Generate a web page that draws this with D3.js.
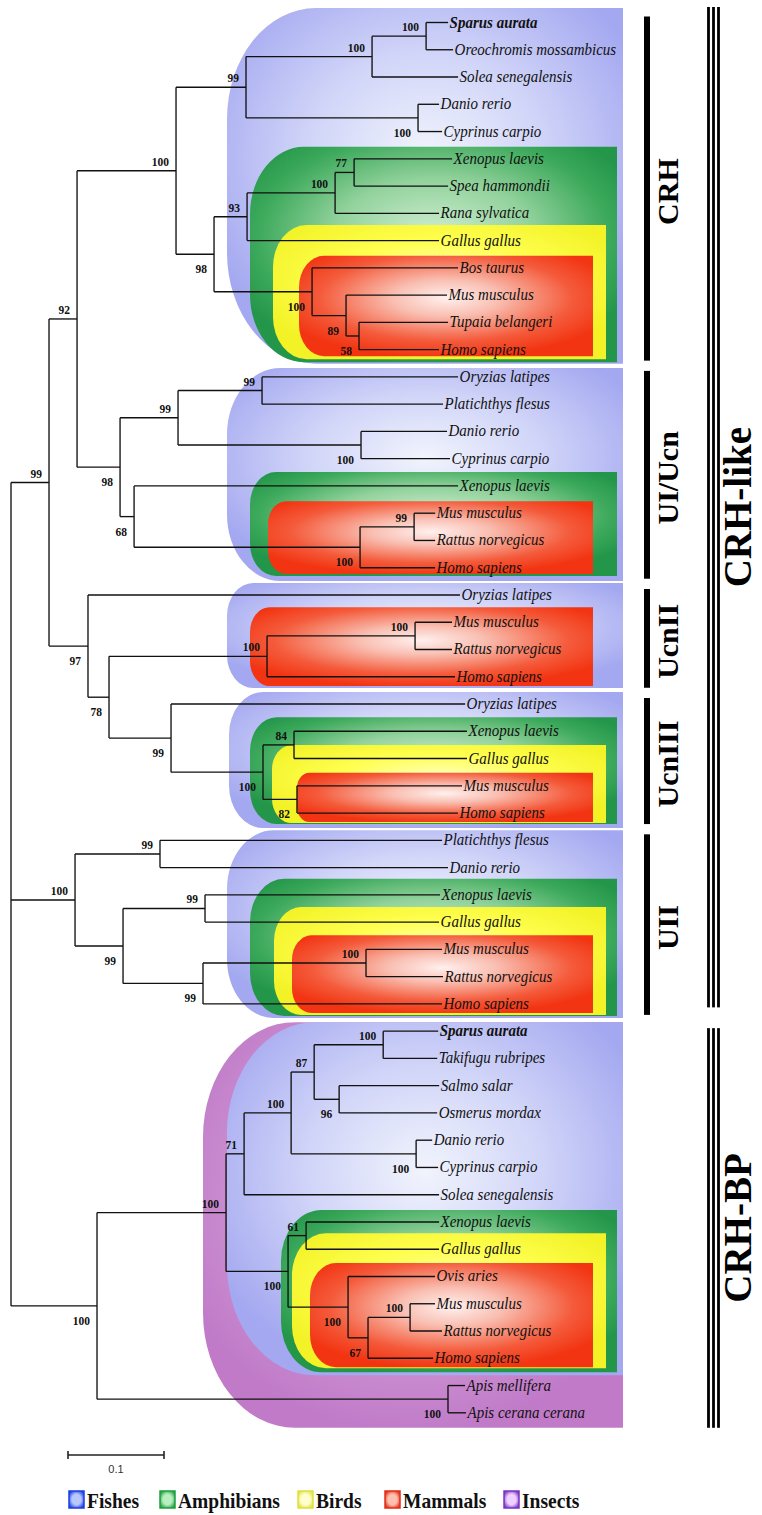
<!DOCTYPE html>
<html><head><meta charset="utf-8">
<script src="https://cdn.jsdelivr.net/npm/d3@7"></script>
<style>
html,body{margin:0;padding:0;background:#fff;}
svg{display:block;}
</style></head>
<body>
<svg id="chart" width="762" height="1515"></svg>
<script>
// ---------------- DATA ----------------
// Subtrees in Newick form: leaf:branchLength, internal labels = bootstrap values
const crhTree = "((((Sparus aurata:0.0229,Oreochromis mossambicus:0.0281)100:0.0563,Solea senegalensis:0.0896)100:0.1313,(Danio rerio:0.0219,Cyprinus carpio:0.0250)100:0.1792)99:0.0729,((((Xenopus laevis:0.1021,Spea hammondii:0.0979)77:0.0198,Rana sylvatica:0.1083)100:0.0917,Gallus gallus:0.2000)93:0.0344,(Bos taurus:0.1521,(Mus musculus:0.1052,(Tupaia belangeri:0.0927,Homo sapiens:0.0833)58:0.0135)89:0.0354)100:0.1021)98:0.0396)100:0.1031";
const uiTree = "(((Oryzias latipes:0.2042,Platichthys flesus:0.1885)99:0.0875,(Danio rerio:0.0896,Cyprinus carpio:0.0927)100:0.1906)99:0.0604,(Xenopus laevis:0.3375,((Mus musculus:0.0219,Rattus norvegicus:0.0219)99:0.0563,Homo sapiens:0.0781)100:0.2354)68:0.0146)98:0.0448";
const ucn2Tree = "((Mus musculus:0.0385,Rattus norvegicus:0.0385)100:0.1542,Homo sapiens:0.1958)100:0.1646";
const ucn3Tree = "(Oryzias latipes:0.3063,((Xenopus laevis:0.1802,Gallus gallus:0.1802)84:0.0323,(Mus musculus:0.1719,Homo sapiens:0.1677)82:0.0354)100:0.0958)99:0.0646";
const u2Tree = "((Platichthys flesus:0.2938,Danio rerio:0.3000)99:0.0885,((Xenopus laevis:0.2448,Gallus gallus:0.2438)99:0.0854,((Mus musculus:0.0792,Rattus norvegicus:0.0802)100:0.1698,Homo sapiens:0.2490)99:0.0833)99:0.0500)100:0.0667";
const bpTree = "((((((Sparus aurata:0.0573,Takifugu rubripes:0.0563)100:0.0719,(Salmo salar:0.1042,Osmerus mordax:0.1021)96:0.0260)87:0.0240,(Danio rerio:0.0167,Cyprinus carpio:0.0229)100:0.1302)100:0.0490,Solea senegalensis:0.2031)71:0.0188,((Xenopus laevis:0.1385,Gallus gallus:0.1385)61:0.0188,(Ovis aries:0.0906,((Mus musculus:0.0260,Rattus norvegicus:0.0333)100:0.0438,Homo sapiens:0.0677)67:0.0208)100:0.0625)100:0.0646)100:0.1344,(Apis mellifera:0.0177,Apis cerana cerana:0.0188)100:0.3656)100:0.0896";
const fullTree = "(((" + crhTree + "," + uiTree + ")92:0.0292,(Oryzias latipes:0.3875,(" + ucn2Tree + "," + ucn3Tree + ")78:0.0219)97:0.0406)99:0.0396," + u2Tree + "," + bpTree + ");";

const highlightTaxa = ["Sparus aurata"];

// Taxonomic groups and the leaf ranges (by leaf order) they shade
const groups = ["Fishes", "Amphibians", "Birds", "Mammals", "Insects"];
const cladeBoxes = [
  ["Fishes",0,12],["Amphibians",5,12],["Birds",8,12],["Mammals",9,12],
  ["Fishes",13,20],["Amphibians",17,20],["Mammals",18,20],
  ["Fishes",21,24],["Mammals",22,24],
  ["Fishes",25,29],["Amphibians",26,29],["Birds",27,29],["Mammals",28,29],
  ["Fishes",30,36],["Amphibians",32,36],["Birds",33,36],["Mammals",34,36],
  ["Insects",37,51],["Fishes",37,49],["Amphibians",44,49],["Birds",45,49],["Mammals",46,49]
];
const subfamilies = [["CRH",0,12],["UI/Ucn",13,20],["UcnII",21,24],["UcnIII",25,29],["UII",30,36]];
const superfamilies = [["CRH-like",0,36],["CRH-BP",37,51]];
const scaleBarValue = 0.1;

// ---------------- LAYOUT / STYLE ----------------
const boxLeft   = [227,250,273,299, 227,250,268, 227,250, 229,250,272,297, 227,250,274,292, 203,227,281,292,310];
const boxTopPad = [-14.5,-12,-15.5,-12, -9,-14,-12, -12,-15, -12,-14,-13.5,-13, -10,-16,-15,-14, -9,-9,-12,-16,-13.5];
const boxBotPad = [14,12.5,9.5,6.5, 13.3,8.3,6.3, 11.3,9.3, 15,11,10,9, 14,12,11,9, 15,17,14,10,9];
const groupRight = {Fishes:623, Amphibians:617, Birds:606, Mammals:593, Insects:623};
const groupStops = {
  Fishes:    [[0,"#f1f4fc"],[0.5,"#d0d4f8"],[1,"#a4a8f0"]],
  Amphibians:[[0,"#d2efd4"],[0.45,"#92d29c"],[0.8,"#3ca95b"],[1,"#24964a"]],
  Birds:     [[0,"#ffffc4"],[0.5,"#ffff50"],[1,"#f2f226"]],
  Mammals:   [[0,"#fff0ee"],[0.3,"#f9bfb2"],[0.72,"#f45a3a"],[1,"#f23412"]],
  Insects:   [[0,"#e2bce4"],[1,"#c07ac8"]]
};
const legendStops = {
  Fishes:["#b8c8ff","#1c3fe0"], Amphibians:["#b8eec0","#1fa040"], Birds:["#ffffd0","#e0e040"],
  Mammals:["#ffc0b0","#e03018"], Insects:["#f0d0ff","#7a34c4"]
};

// ---------------- PARSE ----------------
function parseNewick(s){
  let i=0;
  function node(){
    const n={children:[]};
    if(s[i]==='('){
      i++; n.children.push(node());
      while(s[i]===','){i++; n.children.push(node());}
      i++;
    }
    let name='';
    while(i<s.length && !':,();'.includes(s[i])) name+=s[i++];
    n.name=name.trim();
    n.length=0;
    if(s[i]===':'){ i++; let num=''; while(i<s.length && !',();'.includes(s[i])) num+=s[i++]; n.length=+num; }
    if(!n.children.length) delete n.children;
    return n;
  }
  return node();
}
const root = d3.hierarchy(parseNewick(fullTree));
root.eachBefore(d=>{ d.dist = (d.parent? d.parent.dist : 0) + (d.parent? d.data.length : 0); });
const leaves = root.leaves();

const x = d3.scaleLinear().domain([0, 0.1]).range([11, 107]);
const y = d3.scaleLinear().domain([0, leaves.length-1]).range([22.5, 1412.8]);
leaves.forEach((l,i)=>{ l.idx=i; l.py=y(i); });
root.eachAfter(d=>{ d.px = x(d.dist); if(d.children){ d.py=(d.children[0].py + d.children[d.children.length-1].py)/2; } });

const svg = d3.select("#chart");
const defs = svg.append("defs");
groups.forEach(g=>{
  const rg = defs.append("radialGradient").attr("id","g_"+g).attr("cx","0.5").attr("cy","0.42").attr("r","0.6");
  groupStops[g].forEach(s=>rg.append("stop").attr("offset",s[0]).attr("stop-color",s[1]));
  const lg = defs.append("radialGradient").attr("id","lg_"+g).attr("cx","0.5").attr("cy","0.5").attr("r","0.6");
  lg.append("stop").attr("offset",0).attr("stop-color",legendStops[g][0]);
  lg.append("stop").attr("offset",0.5).attr("stop-color",legendStops[g][0]);
  lg.append("stop").attr("offset",1).attr("stop-color",legendStops[g][1]);
});

// ---------------- BOXES ----------------
function boxPath(l,t,r,b){
  const h=b-t;
  const rx=Math.min(0.25*h, 92);
  const ry=Math.min(rx*1.25, h/2);
  return `M${r},${t}H${l+rx}A${rx},${ry} 0 0 0 ${l},${t+ry}V${b-ry}A${rx},${ry} 0 0 0 ${l+rx},${b}H${r}Z`;
}
const gBoxes = svg.append("g");
cladeBoxes.forEach((c,i)=>{
  const [g,a,b]=c;
  const t=y(a)+boxTopPad[i], bt=y(b)+boxBotPad[i];
  gBoxes.append("path").attr("d", boxPath(boxLeft[i], t, groupRight[g], bt))
    .attr("fill","url(#g_"+g+")");
});

// ---------------- TREE ----------------
const gTree = svg.append("g").attr("fill","none").attr("stroke","#111").attr("stroke-width",1.35);
root.descendants().forEach(d=>{
  if(d.parent){
    gTree.append("path").attr("d",`M${d.parent.px},${d.py}H${d.px}`);
  }
  if(d.children){
    gTree.append("path").attr("d",`M${d.px},${d.children[0].py}V${d.children[d.children.length-1].py}`);
  }
});

// bootstrap labels
const gBoot = svg.append("g").attr("font-family","'Liberation Serif','Times New Roman',serif")
  .attr("font-weight","bold").attr("font-size",11.5).attr("fill","#111").attr("text-anchor","end");
root.descendants().forEach(d=>{
  if(d.children && d.parent && d.data.name){
    const sib=d.parent.children;
    const below = sib[sib.length-1]===d;
    gBoot.append("text").attr("transform",`translate(${d.px-7},${below? d.py+19 : d.py-5}) scale(1,1.12)`).text(d.data.name);
  }
});

// leaf labels
const gLeaf = svg.append("g").attr("font-family","'Liberation Serif','Times New Roman',serif")
  .attr("font-style","italic").attr("font-size",15).attr("fill","#111");
leaves.forEach(l=>{
  gLeaf.append("text").attr("transform",`translate(${l.px+1.5},${l.py+5}) scale(1,1.1)`)
    .attr("font-weight", highlightTaxa.includes(l.data.name)?"bold":"normal")
    .text(l.data.name);
});

// ---------------- SUBFAMILY BARS ----------------
const gSide = svg.append("g").attr("font-family","'Liberation Serif','Times New Roman',serif").attr("font-weight","bold").attr("fill","#000");
subfamilies.forEach(s=>{
  const t=y(s[1])-6, b=y(s[2])+11;
  gSide.append("rect").attr("x",644).attr("y",t).attr("width",6).attr("height",b-t);
  const cy=(t+b)/2+3;
  gSide.append("text").attr("transform",`translate(678,${cy}) rotate(-90)`).attr("text-anchor","middle")
    .attr("font-size",30).text(s[0]);
});
superfamilies.forEach((s,i)=>{
  const t = i===0 ? y(s[1])-15.5 : y(s[1])-3;
  const b = i===0 ? y(s[2])+3.5 : y(s[2])+15;
  [708.5,713.5,718.5].forEach(xx=>{
    gSide.append("rect").attr("x",xx-1.4).attr("y",t).attr("width",2.8).attr("height",b-t);
  });
  const cy=(t+b)/2;
  gSide.append("text").attr("transform",`translate(751,${cy}) rotate(-90)`).attr("text-anchor","middle")
    .attr("font-size",39).text(s[0]);
});

// ---------------- SCALE BAR ----------------
const sb = svg.append("g").attr("stroke","#222").attr("stroke-width",1.6);
const sx0=68, sx1=sx0 + (x(scaleBarValue)-x(0));
sb.append("line").attr("x1",sx0).attr("x2",sx1).attr("y1",1455).attr("y2",1455);
sb.append("line").attr("x1",sx0).attr("x2",sx0).attr("y1",1451).attr("y2",1459);
sb.append("line").attr("x1",sx1).attr("x2",sx1).attr("y1",1451).attr("y2",1459);
svg.append("text").attr("x",(sx0+sx1)/2).attr("y",1473).attr("text-anchor","middle")
  .attr("font-family","'Liberation Sans',Arial,sans-serif").attr("font-size",11).attr("fill","#333").text(scaleBarValue);

// ---------------- LEGEND ----------------
const legX = [69,160,298,385,504];
const gLeg = svg.append("g");
groups.forEach((g,i)=>{
  gLeg.append("rect").attr("x",legX[i]).attr("y",1491).attr("width",15).attr("height",17)
    .attr("fill","url(#lg_"+g+")").attr("stroke",legendStops[g][1]).attr("stroke-width",1.5);
  gLeg.append("text").attr("transform",`translate(${legX[i]+18},1508) scale(1,1.12)`)
    .attr("font-family","'Liberation Serif','Times New Roman',serif").attr("font-weight","bold")
    .attr("font-size",19.5).attr("fill","#111").text(g);
});
</script>
</body></html>
